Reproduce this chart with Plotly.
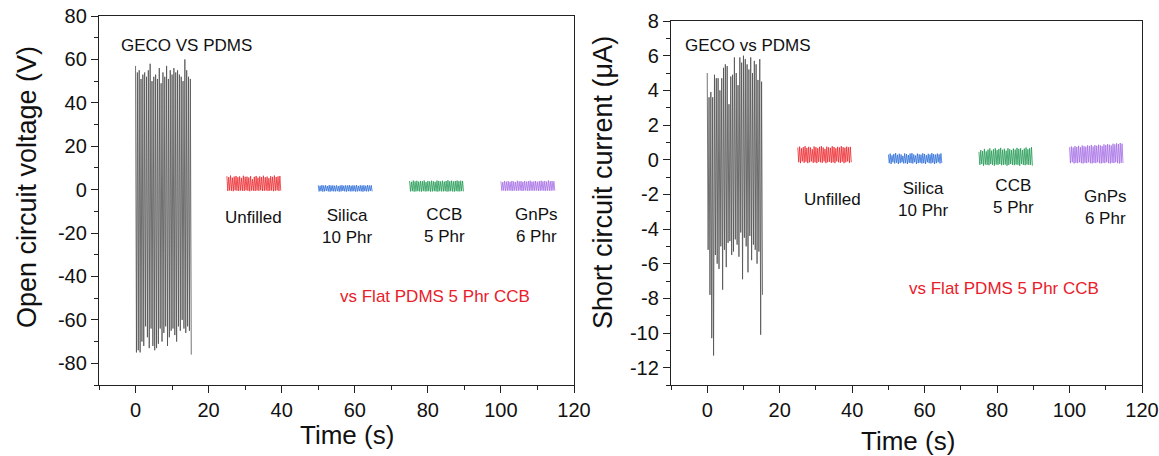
import numpy as np
import plotly.graph_objects as go

# ---------------- data ----------------
# Left panel: open circuit voltage (V)
geco_v_peaks = [57, 54, 55, 51, 53, 54, 52, 55, 58, 50, 52, 53, 51, 56, 49, 54, 52, 57, 51, 55,
                53, 56, 54, 55, 53, 52, 50, 60, 55, 52, 51]
geco_v_troughs = [-75, -74, -75, -70, -72, -63, -68, -73, -64, -72, -74, -73, -71, -64, -70, -66,
                  -63, -72, -68, -65, -64, -67, -70, -63, -65, -60, -64, -66, -63, -65, -76]

unf_v_peaks = [6.2, 5.8, 6.5, 5.5, 6.0, 6.3, 5.7, 6.1, 5.4, 6.4, 5.9, 6.0, 5.6, 6.2, 4.8,
               5.9, 6.3, 5.5, 6.1, 5.8, 6.4, 5.7, 6.0, 5.3, 6.2, 5.9, 6.5, 5.8, 6.1, 6.3]
unf_v_troughs = [-0.6, -0.4, -0.5, -0.7, -0.3, -0.5, -0.6, -0.4, -0.5, -0.6, -0.3, -0.5, -0.7, -0.4, -0.5,
                 -0.6, -0.4, -0.5, -0.3, -0.6, -0.5, -0.4, -0.6, -0.5, -0.4, -0.7, -0.5, -0.3, -0.6, -0.5]
sil_v_peaks = [2.0, 1.8, 2.1, 1.9, 2.0, 1.7, 2.1, 1.9, 2.0, 1.8, 2.0, 1.6, 1.9, 2.1, 1.8,
               2.0, 1.9, 2.1, 1.8, 2.0, 1.9, 2.1, 1.7, 2.0, 1.9, 2.0, 1.8, 2.1, 1.9, 2.0]
sil_v_troughs = [-0.8, -0.7, -0.9, -0.8, -0.6, -0.8, -0.9, -0.7, -0.8, -0.8, -0.7, -0.9, -0.8, -0.6, -0.8,
                 -0.9, -0.7, -0.8, -0.8, -0.7, -0.9, -0.8, -0.7, -0.8, -0.9, -0.7, -0.8, -0.8, -0.6, -0.8]
ccb_v_peaks = [4.0, 3.6, 4.2, 3.8, 4.1, 3.7, 4.0, 3.9, 4.2, 3.5, 4.0, 3.8, 4.1, 3.9, 3.6,
               4.2, 4.0, 3.8, 4.1, 3.7, 4.0, 4.3, 3.9, 4.1, 3.8, 4.0, 4.2, 3.9, 4.1, 4.0]
ccb_v_troughs = [-0.8, -0.7, -0.9, -0.8, -0.7, -0.8, -0.9, -0.7, -0.8, -0.8, -0.7, -0.9, -0.8, -0.7, -0.8,
                 -0.9, -0.7, -0.8, -0.8, -0.7, -0.9, -0.8, -0.7, -0.8, -0.9, -0.7, -0.8, -0.8, -0.7, -0.8]
gnp_v_peaks = [3.8, 3.5, 4.0, 3.7, 3.9, 3.6, 4.0, 3.8, 3.5, 4.1, 3.8, 3.9, 3.6, 4.0, 3.7,
               3.9, 4.1, 3.7, 3.8, 4.0, 3.6, 3.9, 4.1, 3.8, 4.0, 3.7, 4.2, 3.9, 4.0, 3.8]
gnp_v_troughs = [-0.5, -0.4, -0.6, -0.5, -0.4, -0.5, -0.6, -0.4, -0.5, -0.5, -0.4, -0.6, -0.5, -0.4, -0.5,
                 -0.6, -0.4, -0.5, -0.5, -0.4, -0.6, -0.5, -0.4, -0.5, -0.6, -0.4, -0.5, -0.5, -0.4, -0.5]

# Right panel: short circuit current (uA)
geco_i_peaks = [5.0, 3.6, 3.9, 3.6, 4.9, 4.7, 4.7, 4.0, 4.7, 5.3, 5.5, 5.4, 3.2, 4.8, 4.9, 5.9,
                5.0, 4.3, 5.9, 5.6, 6.0, 5.8, 5.5, 5.2, 5.9, 5.0, 5.7, 5.5, 4.6, 5.8, 4.5]
geco_i_troughs = [-5.2, -7.8, -10.3, -11.3, -5.5, -6.0, -6.3, -5.0, -7.5, -5.2, -6.2, -4.8, -4.7, -5.5,
                  -5.3, -4.6, -4.9, -5.6, -4.2, -6.9, -4.5, -5.0, -6.5, -4.4, -5.8, -4.9, -5.2, -6.0,
                  -5.3, -10.1, -7.8]

unf_i_peaks = [0.70, 0.75, 0.65, 0.72, 0.78, 0.68, 0.74, 0.70, 0.60, 0.76, 0.72, 0.66, 0.74, 0.78, 0.70,
               0.62, 0.75, 0.71, 0.68, 0.77, 0.73, 0.66, 0.74, 0.70, 0.78, 0.72, 0.69, 0.75, 0.71, 0.74]
unf_i_troughs = [-0.15, -0.2, -0.1, -0.18, -0.12, -0.2, -0.15, -0.1, -0.18, -0.15, -0.2, -0.12, -0.15,
                 -0.18, -0.1, -0.2, -0.15, -0.12, -0.18, -0.15, -0.2, -0.1, -0.15, -0.18, -0.12, -0.2,
                 -0.15, -0.1, -0.18, -0.15]
sil_i_peaks = [0.30, 0.35, 0.25, 0.33, 0.38, 0.28, 0.34, 0.30, 0.22, 0.36, 0.32, 0.27, 0.35, 0.38, 0.30,
               0.24, 0.35, 0.31, 0.29, 0.37, 0.33, 0.26, 0.34, 0.30, 0.38, 0.32, 0.29, 0.35, 0.31, 0.36]
sil_i_troughs = [-0.2, -0.25, -0.15, -0.22, -0.18, -0.25, -0.2, -0.15, -0.22, -0.2, -0.25, -0.18, -0.2,
                 -0.22, -0.15, -0.25, -0.2, -0.18, -0.22, -0.2, -0.25, -0.15, -0.2, -0.22, -0.18, -0.25,
                 -0.2, -0.15, -0.22, -0.2]
ccb_i_peaks = [0.45, 0.55, 0.50, 0.62, 0.48, 0.58, 0.65, 0.52, 0.60, 0.66, 0.55, 0.62, 0.68, 0.57, 0.63,
               0.52, 0.66, 0.60, 0.55, 0.64, 0.58, 0.68, 0.62, 0.66, 0.56, 0.64, 0.70, 0.60, 0.66, 0.72]
ccb_i_troughs = [-0.3, -0.25, -0.35, -0.28, -0.3, -0.32, -0.25, -0.3, -0.35, -0.28, -0.3, -0.25, -0.32,
                 -0.3, -0.28, -0.35, -0.3, -0.25, -0.3, -0.32, -0.28, -0.3, -0.35, -0.25, -0.3, -0.32,
                 -0.28, -0.3, -0.3, -0.35]
gnp_i_peaks = [0.72, 0.76, 0.70, 0.78, 0.74, 0.80, 0.72, 0.82, 0.77, 0.75, 0.83, 0.79, 0.85, 0.76, 0.84,
               0.80, 0.86, 0.82, 0.78, 0.88, 0.84, 0.90, 0.86, 0.82, 0.92, 0.88, 0.94, 0.90, 0.96, 0.92]
gnp_i_troughs = [-0.2, -0.15, -0.22, -0.18, -0.2, -0.15, -0.2, -0.22, -0.18, -0.2, -0.15, -0.2, -0.22,
                 -0.18, -0.2, -0.15, -0.2, -0.22, -0.18, -0.2, -0.15, -0.2, -0.22, -0.18, -0.2, -0.15,
                 -0.2, -0.22, -0.18, -0.2]

# start time (s) and cycle period (s) of each recording
t_start = {"GECO": 0.0, "Unfilled": 25.0, "Silica": 50.0, "CCB": 75.0, "GnPs": 100.0}
period = 0.5

# tick values / labels (hyphen minus as in the original)
x_ticks = [0, 20, 40, 60, 80, 100, 120]
v_ticks = [-80, -60, -40, -20, 0, 20, 40, 60, 80]
i_ticks = [-12, -10, -8, -6, -4, -2, 0, 2, 4, 6, 8]

colors = {"GECO": "#505050", "Unfilled": "#ec2a2f", "Silica": "#2f6fd8",
          "CCB": "#239a55", "GnPs": "#a66ee6"}

FONT = "Arial, Liberation Sans, sans-serif"


def zigzag(name, peaks, troughs):
    t0 = t_start[name]
    xs, ys = [], []
    for i, (p, q) in enumerate(zip(peaks, troughs)):
        xs += [t0 + i * period, t0 + i * period + period / 2]
        ys += [p, q]
    return xs, ys


fig = go.Figure()

left = [("GECO", geco_v_peaks, geco_v_troughs), ("Unfilled", unf_v_peaks, unf_v_troughs),
        ("Silica", sil_v_peaks, sil_v_troughs), ("CCB", ccb_v_peaks, ccb_v_troughs),
        ("GnPs", gnp_v_peaks, gnp_v_troughs)]
right = [("GECO", geco_i_peaks, geco_i_troughs), ("Unfilled", unf_i_peaks, unf_i_troughs),
         ("Silica", sil_i_peaks, sil_i_troughs), ("CCB", ccb_i_peaks, ccb_i_troughs),
         ("GnPs", gnp_i_peaks, gnp_i_troughs)]

for name, p, q in left:
    xs, ys = zigzag(name, p, q)
    fig.add_trace(go.Scatter(x=xs, y=ys, mode="lines", xaxis="x", yaxis="y",
                             line=dict(color=colors[name], width=0.8), showlegend=False))
for name, p, q in right:
    xs, ys = zigzag(name, p, q)
    fig.add_trace(go.Scatter(x=xs, y=ys, mode="lines", xaxis="x2", yaxis="y2",
                             line=dict(color=colors[name], width=0.8), showlegend=False))

axis_common = dict(showline=True, linecolor="#222", linewidth=1.3, mirror=True,
                   ticks="outside", ticklen=7, tickwidth=1.2, tickcolor="#222",
                   showgrid=False, zeroline=False, automargin=False,
                   tickfont=dict(family=FONT, size=20, color="#111"))


def ticks(vals):
    return dict(tickmode="array", tickvals=vals, ticktext=[str(v) for v in vals])


W, H = 1159, 456
fig.update_layout(
    width=W, height=H, margin=dict(l=0, r=0, t=0, b=0, autoexpand=False),
    paper_bgcolor="white", plot_bgcolor="white", showlegend=False,
    xaxis=dict(domain=[99 / W, 574 / W], range=[-10, 120], **ticks(x_ticks),
               minor=dict(dtick=10, ticks="outside", ticklen=4, tickcolor="#222"),
               anchor="y", **axis_common),
    yaxis=dict(domain=[(H - 385) / H, (H - 16) / H], range=[-90, 80], **ticks(v_ticks),
               minor=dict(dtick=10, ticks="outside", ticklen=4, tickcolor="#222"),
               anchor="x", **axis_common),
    xaxis2=dict(domain=[671 / W, 1142 / W], range=[-10, 120], **ticks(x_ticks),
                minor=dict(dtick=10, ticks="outside", ticklen=4, tickcolor="#222"),
                anchor="y2", **axis_common),
    yaxis2=dict(domain=[(H - 385) / H, (H - 21) / H], range=[-13, 8], **ticks(i_ticks),
                minor=dict(dtick=1, ticks="outside", ticklen=4, tickcolor="#222"),
                anchor="x2", **axis_common),
)


def px_ann(text, x, y, size=17, color="#111", xanchor="center", angle=0):
    fig.add_annotation(text=text, x=x / W, y=1 - y / H, xref="paper", yref="paper",
                       xanchor=xanchor, yanchor="middle", showarrow=False, textangle=angle,
                       font=dict(family=FONT, size=size, color=color))


# axis titles
px_ann("Open circuit voltage (V)", 27, 187, size=27, angle=-90)
px_ann("Time (s)", 347, 435, size=26)
px_ann("Short circuit current (μA)", 603, 182, size=27, angle=-90)
px_ann("Time (s)", 908, 441, size=26)

# left panel labels
px_ann("GECO VS PDMS", 119, 45, xanchor="left")
px_ann("Unfilled", 223, 217, xanchor="left")
px_ann("Silica<br>10 Phr", 320, 226, xanchor="left")
px_ann("CCB<br>5 Phr", 422, 225, xanchor="left")
px_ann("GnPs<br>6 Phr", 513, 225, xanchor="left")
px_ann("vs Flat PDMS 5 Phr CCB", 338, 296, color="#e8202a", xanchor="left")

# right panel labels
px_ann("GECO vs PDMS", 683, 46, xanchor="left")
px_ann("Unfilled", 802, 199, xanchor="left")
px_ann("Silica<br>10 Phr", 896, 199, xanchor="left")
px_ann("CCB<br>5 Phr", 991, 196, xanchor="left")
px_ann("GnPs<br>6 Phr", 1082, 207, xanchor="left")
px_ann("vs Flat PDMS 5 Phr CCB", 907, 288, color="#e8202a", xanchor="left")

fig.write_html("out.html")
